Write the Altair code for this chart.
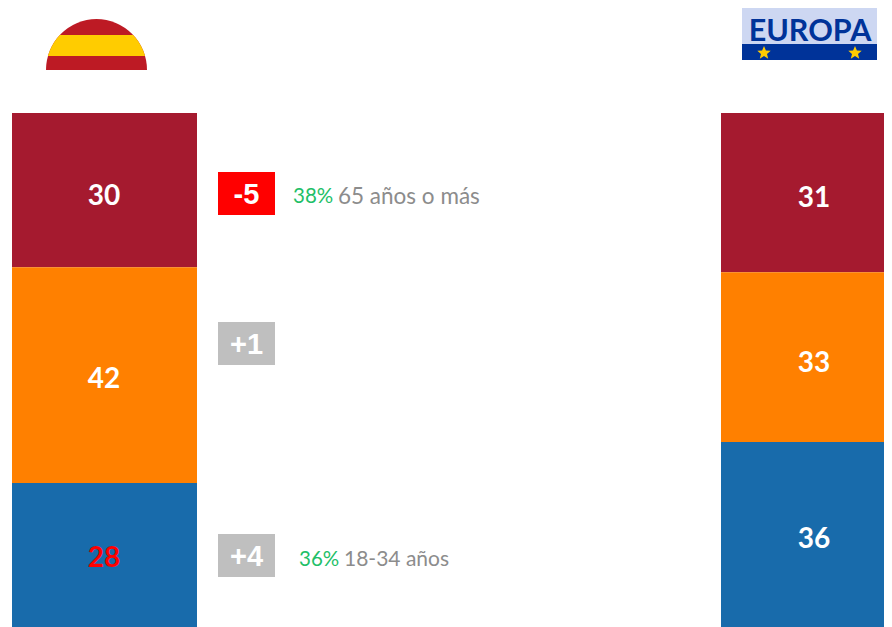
import altair as alt
import pandas as pd
from urllib.parse import quote

# ---- data
segments = ["Mayor", "Medio", "Joven"]
spain_values = [30, 42, 28]
europe_values = [31, 33, 36]
seg_colors = ["#A51A2F", "#FF8000", "#186BAB"]
deltas = ["-5", "+1", "+4"]
delta_fill = ["#FF0000", "#BFBFBF", "#BFBFBF"]
pct_labels = ["38%", "36%"]
age_labels = ["65 años o más", "18-34 años"]

# ---- layout (page pixels minus the 8px margin)
W, H = 876, 619
PX_PER_UNIT = 5.14
Y_MAX = H / PX_PER_UNIT
SPAIN_X = (4, 189)
EUROPE_X = (713, 876)
DELTA_X = (210, 267)
DELTA_Y = [(164, 207), (314, 357), (526, 569)]
LABEL_NUDGE = {"es": [7, 5, 4], "eu": [6, 7, 6]}

y_scale = alt.Scale(domain=[0, Y_MAX], nice=False, zero=False)
color = alt.Color("seg:N", scale=alt.Scale(domain=segments, range=seg_colors), legend=None)


def stack(vals, key, x_span, text_colors):
    df = pd.DataFrame({
        "seg": segments,
        "value": vals,
        "rank": [3, 2, 1],
        "label": [str(v) for v in vals],
    })
    base = alt.Chart(df).transform_stack(
        stack="value", sort=[alt.SortField("rank", order="ascending")], groupby=[], as_=["y0", "y1"]
    )
    bars = base.mark_rect().encode(
        x=alt.value(x_span[0]), x2=alt.value(x_span[1]),
        y=alt.Y("y0:Q", scale=y_scale, axis=None), y2="y1:Q", color=color,
    )
    cx = 96 if key == "es" else 806
    labels = []
    for i in range(3):
        labels.append(
            alt.Chart(df.iloc[[i]]).transform_calculate(
                ypos=f"{sum(vals[i+1:])}+{vals[i]}/2"
            ).mark_text(font="Lato", fontWeight="bold", fontSize=28, baseline="middle", align="center",
                        dy=LABEL_NUDGE[key][i], color=text_colors[i]).encode(
                x=alt.value(cx), y=alt.Y("ypos:Q", scale=y_scale, axis=None), text="label:N")
        )
    return [bars] + labels


layers = stack(spain_values, "es", SPAIN_X, ["white", "white", "#FF0000"])
layers += stack(europe_values, "eu", EUROPE_X, ["white", "white", "white"])

# change boxes
for d, f, (y0, y1) in zip(deltas, delta_fill, DELTA_Y):
    row = alt.Chart(pd.DataFrame({"t": [d]}))
    layers.append(row.mark_rect(color=f).encode(
        x=alt.value(DELTA_X[0]), x2=alt.value(DELTA_X[1]), y=alt.value(y0), y2=alt.value(y1)))
    layers.append(row.mark_text(font="Liberation Sans", fontWeight="bold", fontSize=29, color="white",
                                align="center", baseline="middle", dy=1).encode(
        x=alt.value(sum(DELTA_X) / 2), y=alt.value((y0 + y1) / 2), text="t:N"))


def txt(s, x, y, col, size):
    return alt.Chart(pd.DataFrame({"t": [s]})).mark_text(
        font="Lato", fontSize=size, color=col, align="left", baseline="middle"
    ).encode(x=alt.value(x), y=alt.value(y), text="t:N")


layers += [
    txt(pct_labels[0], 285, 189, "#1FBF68", 20.5),
    txt(age_labels[0], 330, 189, "#8C8C8C", 22.5),
    txt(pct_labels[1], 291, 552, "#1FBF68", 20.5),
    txt(age_labels[1], 336, 552, "#8C8C8C", 21),
]

# flags
spain_svg = (
    "<svg xmlns='http://www.w3.org/2000/svg' width='101' height='51' viewBox='0 0 101 51'>"
    "<defs><clipPath id='c'><path d='M0 51 A50.5 51 0 0 1 101 51 Z'/></clipPath></defs>"
    "<g clip-path='url(#c)'><rect width='101' height='51' fill='#BD1A24'/>"
    "<rect y='16' width='101' height='21' fill='#FFCC00'/></g></svg>"
)
star = "M0 -7 L1.9 -2.4 6.7 -2.2 3 .9 4.2 5.7 0 3 -4.2 5.7 -3 .9 -6.7 -2.2 -1.9 -2.4Z"
europe_svg = (
    "<svg xmlns='http://www.w3.org/2000/svg' width='135' height='57' viewBox='0 0 135 57'>"
    "<rect width='135' height='41' fill='#CDD7F2'/>"
    "<rect y='41' width='135' height='16' fill='#003399'/>"
    f"<path fill='#FFCC00' transform='translate(22,50)' d='{star}'/>"
    f"<path fill='#FFCC00' transform='translate(113,50)' d='{star}'/></svg>"
)


def img(svg, x, y, w, h):
    url = "data:image/svg+xml," + quote(svg)
    return alt.Chart(pd.DataFrame({"u": [url]})).mark_image(
        width=w, height=h, align="left", baseline="top"
    ).encode(x=alt.value(x), y=alt.value(y), url="u:N")


layers.append(img(spain_svg, 38, 11, 101, 51))
layers.append(img(europe_svg, 734, -5, 135, 57))
layers.append(
    alt.Chart(pd.DataFrame({"t": ["EUROPA"]})).mark_text(
        font="Lato", fontWeight="bold", fontSize=30.5, color="#003399", align="center", baseline="middle"
    ).encode(x=alt.value(802), y=alt.value(24), text="t:N")
)

chart = alt.layer(*layers).properties(
    width=W, height=H, padding=0, background="white", autosize=alt.AutoSizeParams(type="none")
).configure_view(stroke=None)

chart.save("out.html", embed_options={"renderer": "svg", "actions": False})
